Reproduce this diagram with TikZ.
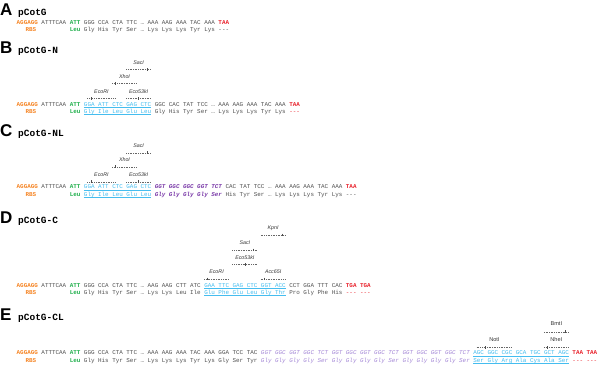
\documentclass[tikz,border=0pt]{standalone}
\usepackage{fontspec}
\setmainfont{Liberation Sans}
\setmonofont{Liberation Mono}
\usetikzlibrary{calc}

\definecolor{rbsorange}{HTML}{F58220}
\definecolor{startgreen}{HTML}{1FAF4B}
\definecolor{seqgray}{HTML}{505050}
\definecolor{mcsblue}{HTML}{45BDEF}
\definecolor{linkpurple}{HTML}{7A3AA8}
\definecolor{linklilac}{HTML}{A488D6}
\definecolor{stopred}{HTML}{E8202A}

\newcommand{\seqfont}{\ttfamily\fontsize{5.9}{6}\selectfont}
\newcommand{\xo}{16.5}
\newcommand{\cw}{3.54}

\begin{document}
\begin{tikzpicture}[x=1pt,y=-1pt]
	\tikzstyle{seqtxt}   = [anchor=base west, inner sep=0pt, text=seqgray, font=\seqfont]
	\tikzstyle{rbsseq}   = [text=rbsorange, font=\seqfont\bfseries]
	\tikzstyle{startcod} = [text=startgreen, font=\seqfont\bfseries]
	\tikzstyle{mcsseq}   = [text=mcsblue]
	\tikzstyle{linker}   = [text=linkpurple, font=\seqfont\bfseries\itshape]
	\tikzstyle{lilac}    = [text=linklilac, font=\seqfont\itshape]
	\tikzstyle{stopcod}  = [text=stopred, font=\seqfont\bfseries]
	\tikzstyle{redash}   = [text=stopred]
	\tikzstyle{paneltag} = [anchor=base west, inner sep=0pt, font=\fontsize{17}{17}\selectfont\bfseries]
	\tikzstyle{plasmid}  = [anchor=base west, inner sep=0pt, font=\ttfamily\fontsize{9.5}{10}\selectfont\bfseries]
	\tikzstyle{enz}      = [anchor=base, inner sep=0pt, text=black!80, font=\fontsize{5.3}{5.3}\selectfont\itshape]
	\tikzstyle{enzup}    = [enz, font=\fontsize{5.6}{5.6}\selectfont]
	\tikzstyle{cutline}  = [draw=black!60, line width=0.3pt, dash pattern=on 1pt off 0.7pt]
	\tikzstyle{cuttick}  = [draw=black!70, line width=0.4pt]
	\tikzstyle{mcsline}  = [draw=mcsblue, line width=0.4pt]

	\useasboundingbox (0,0) rectangle (600,365);
%	\draw[step=10, gray!30] (0,0) grid (600,365);

	\foreach \p/\yy/\ttl in {A/15.5/pCotG, B/53.5/pCotG-N, C/136/pCotG-NL, D/223.5/pCotG-C, E/320.5/pCotG-CL} {
		\node[paneltag] (lab\p) at (0,\yy) {\p};
		\node[plasmid] (tit\p) at (18,\yy) {\ttl};
	}

	% A
	\foreach \nm/\p/\st/\txt in {rbs/0/rbsseq/AGGAGG, sd/7/seqtxt/ATTTCAA, atg/15/startcod/ATT, orf/19/seqtxt/GGG CCA CTA TTC … AAA AAG AAA TAC AAA, stop/57/stopcod/TAA}
		\node[seqtxt,\st] (as-\nm) at ({\xo+\p*\cw},24.8) {\txt};
	\foreach \nm/\p/\st/\txt in {rbs/2.5/rbsseq/RBS, atg/15/startcod/Leu, orf/19/seqtxt/Gly His Tyr Ser … Lys Lys Lys Tyr Lys, stop/57/seqtxt/{-}{-}{-}}
		\node[seqtxt,\st] (ap-\nm) at ({\xo+\p*\cw},31.8) {\txt};

	% B
	\foreach \nm/\p/\st/\txt in {rbs/0/rbsseq/AGGAGG, sd/7/seqtxt/ATTTCAA, atg/15/startcod/ATT, mcs/19/mcsseq/GGA ATT CTC GAG CTC, orf/39/seqtxt/GGC CAC TAT TCC … AAA AAG AAA TAC AAA, stop/77/stopcod/TAA}
		\node[seqtxt,\st] (bs-\nm) at ({\xo+\p*\cw},106) {\txt};
	\foreach \nm/\p/\st/\txt in {rbs/2.5/rbsseq/RBS, atg/15/startcod/Leu, mcs/19/mcsseq/Gly Ile Leu Glu Leu, orf/39/seqtxt/Gly His Tyr Ser … Lys Lys Lys Tyr Lys, stop/77/redash/{-}{-}{-}}
		\node[seqtxt,\st] (bp-\nm) at ({\xo+\p*\cw},113.3) {\txt};

	% C
	\foreach \nm/\p/\st/\txt in {rbs/0/rbsseq/AGGAGG, sd/7/seqtxt/ATTTCAA, atg/15/startcod/ATT, mcs/19/mcsseq/GGA ATT CTC GAG CTC, link/39/linker/GGT GGC GGC GGT TCT, orf/59/seqtxt/CAC TAT TCC … AAA AAG AAA TAC AAA, stop/93/stopcod/TAA}
		\node[seqtxt,\st] (cs-\nm) at ({\xo+\p*\cw},188.8) {\txt};
	\foreach \nm/\p/\st/\txt in {rbs/2.5/rbsseq/RBS, atg/15/startcod/Leu, mcs/19/mcsseq/Gly Ile Leu Glu Leu, link/39/linker/Gly Gly Gly Gly Ser, orf/59/seqtxt/His Tyr Ser … Lys Lys Lys Tyr Lys, stop/93/seqtxt/{-}{-}{-}}
		\node[seqtxt,\st] (cp-\nm) at ({\xo+\p*\cw},196) {\txt};

	% D
	\foreach \nm/\p/\st/\txt in {rbs/0/rbsseq/AGGAGG, sd/7/seqtxt/ATTTCAA, atg/15/startcod/ATT, orf/19/seqtxt/GGG CCA CTA TTC … AAG AAG CTT ATC, mcs/53/mcsseq/GAA TTC GAG CTC GGT ACC, tail/77/seqtxt/CCT GGA TTT CAC, stop/93/stopcod/TGA TGA}
		\node[seqtxt,\st] (ds-\nm) at ({\xo+\p*\cw},287) {\txt};
	\foreach \nm/\p/\st/\txt in {rbs/2.5/rbsseq/RBS, atg/15/startcod/Leu, orf/19/seqtxt/Gly His Tyr Ser … Lys Lys Leu Ile, mcs/53/mcsseq/Glu Phe Glu Leu Gly Thr, tail/77/seqtxt/Pro Gly Phe His, stop/93/redash/{-}{-}{-} {-}{-}{-}}
		\node[seqtxt,\st] (dp-\nm) at ({\xo+\p*\cw},294.5) {\txt};

	% E
	\foreach \nm/\p/\st/\txt in {rbs/0/rbsseq/AGGAGG, sd/7/seqtxt/ATTTCAA, atg/15/startcod/ATT, orf/19/seqtxt/GGG CCA CTA TTC … AAA AAG AAA TAC AAA GGA TCC TAC, link/69/lilac/GGT GGC GGT GGC TCT GGT GGC GGT GGC TCT GGT GGC GGT GGC TCT, mcs/129/mcsseq/AGC GGC CGC GCA TGC GCT AGC, stop/157/stopcod/TAA TAA}
		\node[seqtxt,\st] (es-\nm) at ({\xo+\p*\cw},354.8) {\txt};
	\foreach \nm/\p/\st/\txt in {rbs/2.5/rbsseq/RBS, atg/15/startcod/Leu, orf/19/seqtxt/Gly His Tyr Ser … Lys Lys Lys Tyr Lys Gly Ser Tyr, link/69/lilac/Gly Gly Gly Gly Ser Gly Gly Gly Gly Ser Gly Gly Gly Gly Ser, mcs/129/mcsseq/Ser Gly Arg Ala Cys Ala Ser, stop/157/redash/{-}{-}{-} {-}{-}{-}}
		\node[seqtxt,\st] (ep-\nm) at ({\xo+\p*\cw},362) {\txt};

	\foreach \r in {bs,bp,cs,cp,ds,dp,es,ep}
		\draw[mcsline] ([yshift=-1pt]\r-mcs.base west) -- ([yshift=-1pt]\r-mcs.base east);

	% restriction sites
	\foreach \pn/\dy in {b/0, c/83.4}
		\foreach \nm/\s/\e/\ct/\yy/\lab in {ecori/20/28/21/98.3/EcoRI, ecoki/31/38/34.5/98.3/Eco53kI, xhoi/27/34/28/83.3/XhoI, saci/31/38/37/69.3/SacI} {
			\coordinate (\pn-\nm-w) at ({\xo+\s*\cw},{\yy+\dy});
			\coordinate (\pn-\nm-e) at ({\xo+\e*\cw},{\yy+\dy});
			\coordinate (\pn-\nm-c) at ({\xo+\ct*\cw},{\yy+\dy});
			\draw[cutline] (\pn-\nm-w) -- (\pn-\nm-e);
			\draw[cuttick] ([yshift=1.3pt]\pn-\nm-c) -- ([yshift=-1.3pt]\pn-\nm-c);
			\node[enz] (\pn-\nm) at ($(\pn-\nm-w)!0.5!(\pn-\nm-e)+(0,-5.2)$) {\lab};
		}

	\foreach \nm/\s/\e/\ct/\yy/\lab in {ecori/53/60/54/279/EcoRI, acci/69/76/70/279/Acc65I, ecoki/61/68/64.5/264.3/Eco53kI, saci/61/68/67/250/SacI, kpni/69/76/75/235/KpnI} {
		\coordinate (d-\nm-w) at ({\xo+\s*\cw},\yy);
		\coordinate (d-\nm-e) at ({\xo+\e*\cw},\yy);
		\coordinate (d-\nm-c) at ({\xo+\ct*\cw},\yy);
		\draw[cutline] (d-\nm-w) -- (d-\nm-e);
		\draw[cuttick] ([yshift=1.3pt]d-\nm-c) -- ([yshift=-1.3pt]d-\nm-c);
		\node[enz] (d-\nm) at ($(d-\nm-w)!0.5!(d-\nm-e)+(0,-5.2)$) {\lab};
	}

	\foreach \nm/\s/\e/\ct/\yy/\lab in {noti/130/140/132.5/347.3/NotI, nhei/149/156/150/347.3/NheI, bmti/149/156/155/331.7/BmtI} {
		\coordinate (e-\nm-w) at ({\xo+\s*\cw},\yy);
		\coordinate (e-\nm-e) at ({\xo+\e*\cw},\yy);
		\coordinate (e-\nm-c) at ({\xo+\ct*\cw},\yy);
		\draw[cutline] (e-\nm-w) -- (e-\nm-e);
		\draw[cuttick] ([yshift=1.3pt]e-\nm-c) -- ([yshift=-1.3pt]e-\nm-c);
		\node[enzup] (e-\nm) at ($(e-\nm-w)!0.5!(e-\nm-e)+(0,-5.8)$) {\lab};
	}
\end{tikzpicture}
\end{document}
